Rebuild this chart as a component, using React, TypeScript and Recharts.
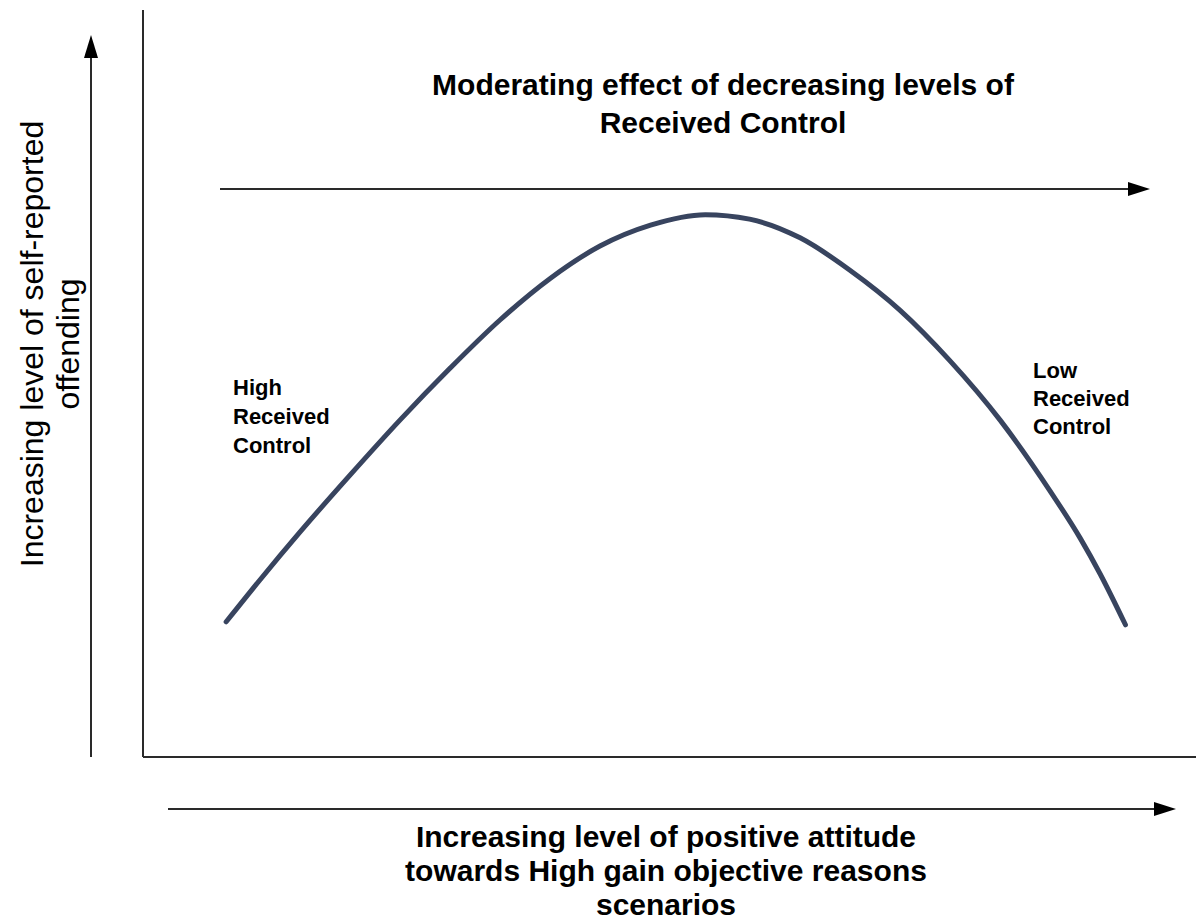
import { LineChart, Line, XAxis, YAxis } from 'recharts'

// Conceptual inverted-U curve, both axes on an abstract 0-100 scale
const attitude = [7.9, 11.1, 14.9, 19.7, 24.4, 29.2, 33.9, 38.7, 43.4, 48.2, 53.4, 57.6, 62.4, 67.1, 71.9, 76.6, 81.4, 86.1, 89.0, 90.9, 93.3]
const offending = [18.1, 23.7, 30.1, 37.8, 45.1, 52.1, 58.5, 64.1, 68.4, 71.2, 72.6, 72.0, 69.5, 65.2, 59.8, 53.1, 45.1, 35.7, 29.3, 24.5, 17.7]

const titleLines = ['Moderating effect of decreasing levels of', 'Received Control']
const xLabelLines = ['Increasing level of positive attitude', 'towards High gain objective reasons', 'scenarios']
const yLabelLines = ['Increasing level of self-reported', 'offending']
const highLabel = ['High', 'Received', 'Control']
const lowLabel = ['Low', 'Received', 'Control']

const data = attitude.map((x, i) => ({ x, y: offending[i] }))

const W = 1196
const H = 921
const font = 'Arial, "Liberation Sans", sans-serif'

export default function App() {
  return (
    <div style={{ position: 'absolute', left: 0, top: 0, width: W, height: H, background: '#fff' }}>
      <LineChart width={W} height={H} data={data} margin={{ top: 10, right: 0, left: 142, bottom: 163 }}>
        <XAxis
          type="number"
          dataKey="x"
          domain={[0, 100]}
          height={1}
          tick={false}
          tickLine={false}
          axisLine={{ stroke: '#2a2a2a', strokeWidth: 2 }}
        />
        <YAxis
          type="number"
          domain={[0, 100]}
          width={1}
          tick={false}
          tickLine={false}
          axisLine={{ stroke: '#2a2a2a', strokeWidth: 2 }}
        />
        <Line
          type="monotone"
          dataKey="y"
          stroke="#38445f"
          strokeWidth={5}
          strokeLinecap="round"
          dot={false}
          isAnimationActive={false}
        />
      </LineChart>

      <svg width={W} height={H} style={{ position: 'absolute', left: 0, top: 0, pointerEvents: 'none' }}>
        {/* arrows */}
        <line x1={91} y1={757} x2={91} y2={57} stroke="#2a2a2a" strokeWidth={2} />
        <polygon points="84,58 98,58 91,35" fill="#000" />
        <line x1={220} y1={189} x2={1129} y2={189} stroke="#2a2a2a" strokeWidth={2} />
        <polygon points="1128,182 1128,196 1150,189" fill="#000" />
        <line x1={168} y1={809} x2={1155} y2={809} stroke="#2a2a2a" strokeWidth={2} />
        <polygon points="1154,802 1154,816 1176,809" fill="#000" />

        {/* title */}
        {titleLines.map((t, i) => (
          <text key={t} x={723} y={95 + i * 38} textAnchor="middle" fontFamily={font} fontWeight="bold" fontSize={30} fill="#000">
            {t}
          </text>
        ))}

        {/* x label */}
        {xLabelLines.map((t, i) => (
          <text key={t} x={666} y={847 + i * 34} textAnchor="middle" fontFamily={font} fontWeight="bold" fontSize={30} fill="#000">
            {t}
          </text>
        ))}

        {/* y label */}
        {yLabelLines.map((t, i) => (
          <text
            key={t}
            transform={`translate(${43 + i * 36}, 344) rotate(-90)`}
            textAnchor="middle"
            fontFamily={font}
            fontSize={32}
            fill="#000"
          >
            {t}
          </text>
        ))}

        {/* curve annotations */}
        {highLabel.map((t, i) => (
          <text key={'h' + i} x={233} y={395 + i * 29} fontFamily={font} fontWeight="bold" fontSize={22} fill="#000">
            {t}
          </text>
        ))}
        {lowLabel.map((t, i) => (
          <text key={'l' + i} x={1033} y={378 + i * 28} fontFamily={font} fontWeight="bold" fontSize={22} fill="#000">
            {t}
          </text>
        ))}
      </svg>
    </div>
  )
}
